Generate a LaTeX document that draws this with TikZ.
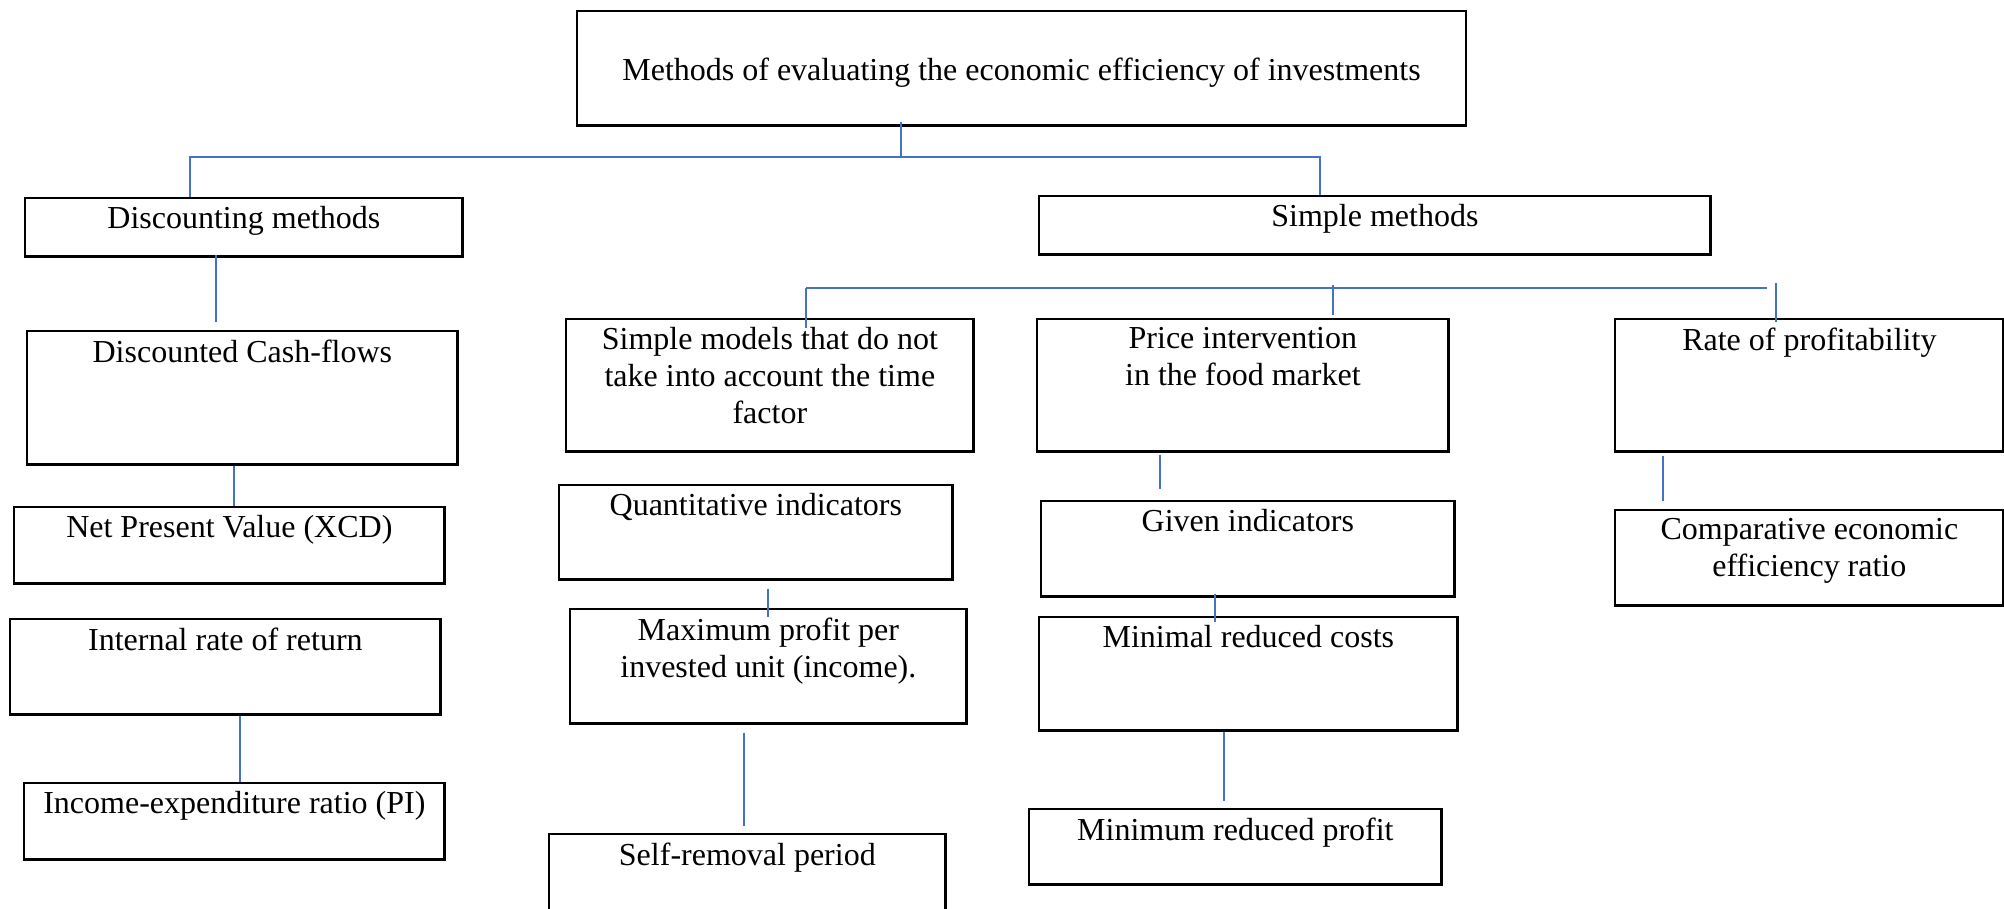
\documentclass[tikz,border=0pt]{standalone}
\usepackage{fontspec}
\setmainfont{Liberation Serif}
\usetikzlibrary{positioning}
\definecolor{LinkBlue}{HTML}{4472C4}
\newcommand{\boxfont}{\fontsize{9.1}{10.5}\selectfont}

\tikzset{
  box/.style={draw=black, line width=0.7pt, anchor=north west, inner sep=0pt},
  lbl/.style={align=center, inner sep=0pt, font=\boxfont},
  link/.style={draw=LinkBlue, line width=0.65pt}
}

\begin{document}
\begin{tikzpicture}[x=0.01cm, y=-0.01cm]
  \useasboundingbox (0,0) rectangle (2004,908);

  % top level
  \node[box, minimum width=8.88cm, minimum height=1.14cm] (top) at (576,10) {};
  \node[lbl, below=0.47cm of top.north] (top-t) {Methods of evaluating the economic efficiency of investments};

  % two groups
  \node[box, minimum width=4.37cm, minimum height=0.58cm] (disc) at (24,197) {};
  \node[lbl, below=0.09cm of disc.north] (disc-t) {Discounting methods};
  \node[box, minimum width=6.71cm, minimum height=0.58cm] (simple) at (1038,195) {};
  \node[lbl, below=0.09cm of simple.north] (simple-t) {Simple methods};

  % discounting branch
  \node[box, minimum width=4.30cm, minimum height=1.33cm] (dcf) at (26,330) {};
  \node[lbl, below=0.09cm of dcf.north] (dcf-t) {Discounted Cash-flows};
  \node[box, minimum width=4.30cm, minimum height=0.76cm] (npv) at (13,506) {};
  \node[lbl, below=0.09cm of npv.north] (npv-t) {Net Present Value (XCD)};
  \node[box, minimum width=4.30cm, minimum height=0.95cm] (irr) at (9,618) {};
  \node[lbl, below=0.09cm of irr.north] (irr-t) {Internal rate of return};
  \node[box, minimum width=4.20cm, minimum height=0.76cm] (pi) at (23,782) {};
  \node[lbl, below=0.09cm of pi.north] (pi-t) {Income-expenditure ratio (PI)};

  % simple branch, first column
  \node[box, minimum width=4.07cm, minimum height=1.32cm] (models) at (565,318) {};
  \node[lbl, below=0.09cm of models.north] (models-t) {Simple models that do not\\take into account the time\\factor};
  \node[box, minimum width=3.93cm, minimum height=0.94cm] (quant) at (558,484) {};
  \node[lbl, below=0.09cm of quant.north] (quant-t) {Quantitative indicators};
  \node[box, minimum width=3.96cm, minimum height=1.14cm] (maxp) at (569,608) {};
  \node[lbl, below=0.09cm of maxp.north] (maxp-t) {Maximum profit per\\invested unit (income).};
  \node[box, minimum width=3.96cm, minimum height=0.82cm] (self) at (548,833) {};
  \node[lbl, below=0.09cm of self.north] (self-t) {Self-removal period};

  % simple branch, second column
  \node[box, minimum width=4.11cm, minimum height=1.32cm] (price) at (1036,318) {};
  \node[lbl, below=0.09cm of price.north] (price-t) {Price intervention\\in the food market};
  \node[box, minimum width=4.13cm, minimum height=0.95cm] (given) at (1040,500) {};
  \node[lbl, below=0.09cm of given.north] (given-t) {Given indicators};
  \node[box, minimum width=4.18cm, minimum height=1.13cm] (minimal) at (1038,616) {};
  \node[lbl, below=0.09cm of minimal.north] (minimal-t) {Minimal reduced costs};
  \node[box, minimum width=4.12cm, minimum height=0.75cm] (minimum) at (1028,808) {};
  \node[lbl, below=0.09cm of minimum.north] (minimum-t) {Minimum reduced profit};

  % simple branch, third column
  \node[box, minimum width=3.88cm, minimum height=1.32cm] (rate) at (1614,318) {};
  \node[lbl, below=0.09cm of rate.north] (rate-t) {Rate of profitability};
  \node[box, minimum width=3.88cm, minimum height=0.95cm] (comp) at (1614,509) {};
  \node[lbl, below=0.09cm of comp.north] (comp-t) {Comparative economic\\efficiency ratio};

  % bus lines
  \coordinate (busA) at (190,157);
  \coordinate (busB) at (1320,157);
  \coordinate (busTop) at (901,157);
  \coordinate (busC) at (806,288);
  \coordinate (busD) at (1767,288);
  \coordinate (busE) at (1333,288);
  \coordinate (busF) at (1776,288);

  \draw[link, shorten <=-0.05cm] (top.south -| busTop) -- (busTop);
  \draw[link] (busA |- disc.north) -- (busA) -- (busB) -- (busB |- simple.north);
  \draw[link] (busC) -- (busD);
  \draw[link, shorten >=-0.1cm] (busC) -- (busC |- models.north);
  \draw[link, shorten <=-0.03cm, shorten >=0.03cm] (busE) -- (busE |- price.north);
  \draw[link, shorten <=-0.05cm, shorten >=-0.04cm] (busF) -- (busF |- rate.north);

  % columns of the vertical links
  \coordinate (c1) at (216,0);
  \coordinate (c2) at (234,0);
  \coordinate (c3) at (240,0);
  \coordinate (c4) at (768,0);
  \coordinate (c5) at (744,0);
  \coordinate (c6) at (1160,0);
  \coordinate (c7) at (1215,0);
  \coordinate (c8) at (1224,0);
  \coordinate (c9) at (1663,0);

  \draw[link, shorten <=-0.03cm, shorten >=0.08cm] (disc.south -| c1) -- (dcf.north -| c1);
  \draw[link] (dcf.south -| c2) -- (npv.north -| c2);
  \draw[link] (irr.south -| c3) -- (pi.north -| c3);
  \draw[link, shorten <=0.08cm, shorten >=-0.09cm] (quant.south -| c4) -- (maxp.north -| c4);
  \draw[link, shorten <=0.08cm, shorten >=0.07cm] (maxp.south -| c5) -- (self.north -| c5);
  \draw[link, shorten <=0.02cm, shorten >=0.11cm] (price.south -| c6) -- (given.north -| c6);
  \draw[link, shorten <=-0.04cm, shorten >=-0.06cm] (given.south -| c7) -- (minimal.north -| c7);
  \draw[link, shorten >=0.07cm] (minimal.south -| c8) -- (minimum.north -| c8);
  \draw[link, shorten <=0.03cm, shorten >=0.08cm] (rate.south -| c9) -- (comp.north -| c9);
\end{tikzpicture}
\end{document}
